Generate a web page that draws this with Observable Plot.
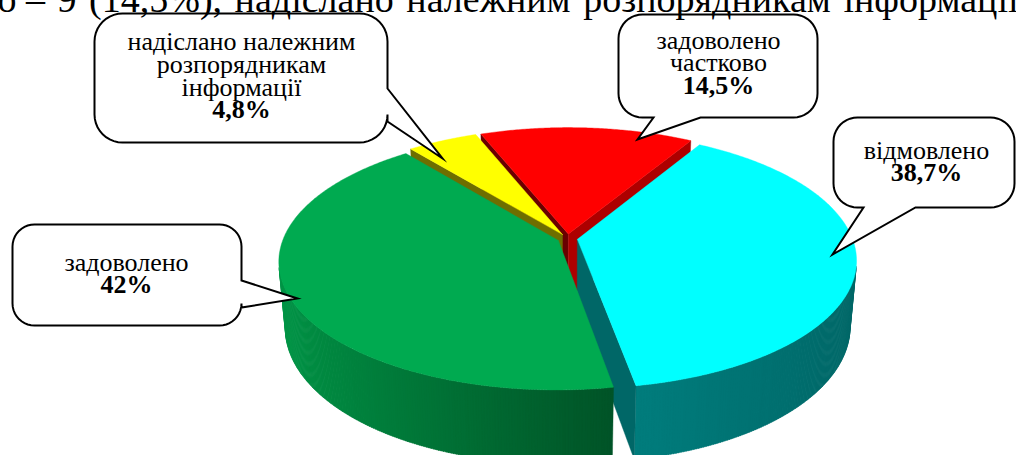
<!DOCTYPE html>
<html><head><meta charset="utf-8">
<script src="https://cdn.jsdelivr.net/npm/d3@7"></script>
<script src="https://cdn.jsdelivr.net/npm/@observablehq/plot@0.6"></script>
<style>html,body{margin:0;padding:0;background:#fff}#chart svg{display:block}
#chart svg text{font-family:"Liberation Serif","Times New Roman",serif !important}</style>
</head><body><div id="chart"></div>
<script>
// ---- data ----
const categories = ["задоволено", "надіслано належним розпорядникам інформації", "задоволено частково", "відмовлено"];
const values = [42, 4.8, 14.5, 38.7];
const valueLabels = ["42%", "4,8%", "14,5%", "38,7%"];
const colors = ["#00AA50", "#FFFF00", "#FF0000", "#00FFFF"];
const labelLines = [["задоволено"], ["надіслано належним", "розпорядникам", "інформації"], ["задоволено", "частково"], ["відмовлено"]];
const docLead = "частково –";
const docWords = ["9", "(14,5%),", "надіслано", "належним", "розпорядникам", "інформації"];
const docTail = "– 2 (4,8%).";

// ---- layout ----
const W = 1016, H = 455;
const pie = {cx: 567, cy: 238, R: 275, tilt: 27, dist: 1524, depth: 75, explode: 10, start: 170};
const callouts = [
  {box: [12, 224, 241, 325], r: 22, side: "right", base: [280, 307], tip: [297, 298], tx: 126, ty: 270},
  {box: [94, 13, 387, 142], r: 28, side: "right", base: [88, 121], tip: [442, 158], tx: 241, ty: 49.5},
  {box: [618, 14, 817, 117], r: 24, side: "bottom", base: [700, 653], tip: [637, 139], tx: 718, ty: 48},
  {box: [833, 117, 1014, 207], r: 24, side: "bottom", base: [915, 863], tip: [832, 254], tx: 926, ty: 158}
];
const lineStep = 22.8, fontSize = 26, docSize = 38, docBaseline = 11;
const docSpan = [57, 1018]; // justified line: first word start, last visible word end

// ---- 3D projection ----
const t = pie.tilt * Math.PI / 180, ct = Math.cos(t), st = Math.sin(t), D = pie.dist;
function proj(X, Y, Z) {
  const yc = Z * ct - Y * st, dc = Y * ct + Z * st, s = D / (D - dc);
  return [pie.cx + X * s, pie.cy - yc * s];
}
const cam = [0, D * ct, D * st];
const visible = (n, p) => n[0] * (cam[0] - p[0]) + n[1] * (cam[1] - p[1]) + n[2] * (cam[2] - p[2]) > 0;
function shade(hex, f) { const c = d3.rgb(hex); return d3.rgb(c.r * f, c.g * f, c.b * f).formatHex(); }
function sideFactor(phi) { const d = -Math.sin(phi); return d >= -0.17 ? 0.55 + 0.33 * d : 0.49 + 0.11 * (d + 0.17); }
const radialFactor = nx => 0.55 + 0.15 * nx;

const a0deg = pie.start * Math.PI / 180;
const arcs = d3.pie().sort(null).startAngle(a0deg).endAngle(a0deg + 2 * Math.PI)(values)
  .map((a, i) => ({...a, i, mid: (a.startAngle + a.endAngle) / 2}));
const order = arcs.slice().sort((a, b) => (-Math.cos(a.mid)) - (-Math.cos(b.mid)));

const sidePts = []; let fid = 0;
function addFace(target, pts3, fill) {
  const id = fid++;
  for (const p of pts3.concat([pts3[0]])) { const [x, y] = proj(...p); target.push({id, fill, x, y}); }
}
const R = pie.R, h = pie.depth, e = pie.explode;
for (const a of order) {
  const ox = e * Math.sin(a.mid), oy = -e * Math.cos(a.mid), col = colors[a.i];
  const P = (phi, r, Z) => [ox + r * Math.sin(phi), oy - r * Math.cos(phi), Z];
  const A0 = a.startAngle, A1 = a.endAngle;
  const n = Math.max(2, Math.ceil((A1 - A0) / (Math.PI / 360)));
  const ov = Math.PI / 900;
  for (let k = 0; k < n; k++) {
    const f0 = A0 + (A1 - A0) * k / n, f1 = A0 + (A1 - A0) * (k + 1) / n, fm = (f0 + f1) / 2;
    const f1o = Math.min(A1, f1 + ov);
    if (visible([Math.sin(fm), -Math.cos(fm), 0], P(fm, R, -h / 2)))
      addFace(sidePts, [P(f0, R, 0), P(f1o, R, 0), P(f1o, R, -h), P(f0, R, -h)], shade(col, sideFactor(fm)));
  }
  const ns = [-Math.cos(A0), -Math.sin(A0), 0];
  if (visible(ns, P(A0, R / 2, -h / 2)))
    addFace(sidePts, [P(0, 0, 0), P(A0, R, 0), P(A0, R, -h), P(0, 0, -h)], shade(col, radialFactor(ns[0])));
  const ne = [Math.cos(A1), Math.sin(A1), 0];
  if (visible(ne, P(A1, R / 2, -h / 2)))
    addFace(sidePts, [P(0, 0, 0), P(A1, R, 0), P(A1, R, -h), P(0, 0, -h)], shade(col, radialFactor(ne[0])));
  const top = [P(0, 0, 0)];
  for (let k = 0; k <= n; k++) top.push(P(A0 + (A1 - A0) * k / n, R, 0));
  addFace(sidePts, top, col);
}

// ---- callouts ----
const bubblePts = [];
callouts.forEach((c, id) => {
  const [x0, y0, x1, y1] = c.box, r = c.r, pts = [];
  const arc = (cx, cy, b0, b1) => { for (let k = 0; k <= 10; k++) { const b = b0 + (b1 - b0) * k / 10; pts.push([cx + r * Math.cos(b), cy + r * Math.sin(b)]); } };
  arc(x0 + r, y0 + r, Math.PI, 1.5 * Math.PI);
  arc(x1 - r, y0 + r, 1.5 * Math.PI, 2 * Math.PI);
  if (c.side === "right") pts.push([x1, c.base[0]], c.tip, [x1, c.base[1]]);
  arc(x1 - r, y1 - r, 0, 0.5 * Math.PI);
  if (c.side === "bottom") pts.push([c.base[0], y1], c.tip, [c.base[1], y1]);
  arc(x0 + r, y1 - r, 0.5 * Math.PI, Math.PI);
  pts.push(pts[0]);
  for (const [x, y] of pts) bubblePts.push({id, x, y});
});
const normalText = [], boldText = [];
callouts.forEach((c, i) => {
  labelLines[i].forEach((s, j) => normalText.push({x: c.tx, y: c.ty + j * lineStep, text: s}));
  boldText.push({x: c.tx, y: c.ty + labelLines[i].length * lineStep, text: valueLabels[i]});
});

// justified document line above the chart (word gaps from measured widths)
const ctx = document.createElement("canvas").getContext("2d");
ctx.font = `${docSize}px "Liberation Serif"`;
const widths = docWords.map(w => ctx.measureText(w).width);
const gap = (docSpan[1] - docSpan[0] - d3.sum(widths)) / (docWords.length - 1);
const docStart = [];
let cursor = docSpan[0];
docWords.forEach((w, i) => { docStart.push({x: cursor, y: docBaseline, text: w}); cursor += widths[i] + gap; });
docStart.push({x: cursor, y: docBaseline, text: docTail});
const docEnd = [{x: docSpan[0] - gap, y: docBaseline, text: docLead}];
const serif = "Liberation Serif";

const chart = Plot.plot({
  width: W, height: H, margin: 0,
  x: {domain: [0, W], range: [0, W], axis: null},
  y: {domain: [0, H], range: [0, H], axis: null},
  color: {type: "identity"},
  style: {background: "#fff", fontFamily: serif},
  marks: [
    Plot.line(sidePts, {x: "x", y: "y", z: "id", fill: "fill", stroke: "fill", strokeWidth: 0.4, curve: "linear"}),
    Plot.line(bubblePts, {x: "x", y: "y", z: "id", fill: "white", stroke: "black", strokeWidth: 2, strokeLinejoin: "miter", strokeMiterlimit: 8}),
    Plot.text(normalText, {x: "x", y: "y", text: "text", textAnchor: "middle", lineAnchor: "bottom", fontSize, fontFamily: serif, fill: "black"}),
    Plot.text(boldText, {x: "x", y: "y", text: "text", textAnchor: "middle", lineAnchor: "bottom", fontSize, fontWeight: "bold", fontFamily: serif, fill: "black"}),
    Plot.text(docEnd, {x: "x", y: "y", text: "text", textAnchor: "end", lineAnchor: "bottom", fontSize: docSize, fontFamily: serif, fill: "black"}),
    Plot.text(docStart, {x: "x", y: "y", text: "text", textAnchor: "start", lineAnchor: "bottom", fontSize: docSize, fontFamily: serif, fill: "black"})
  ]
});
document.getElementById("chart").appendChild(chart);
</script></body></html>
